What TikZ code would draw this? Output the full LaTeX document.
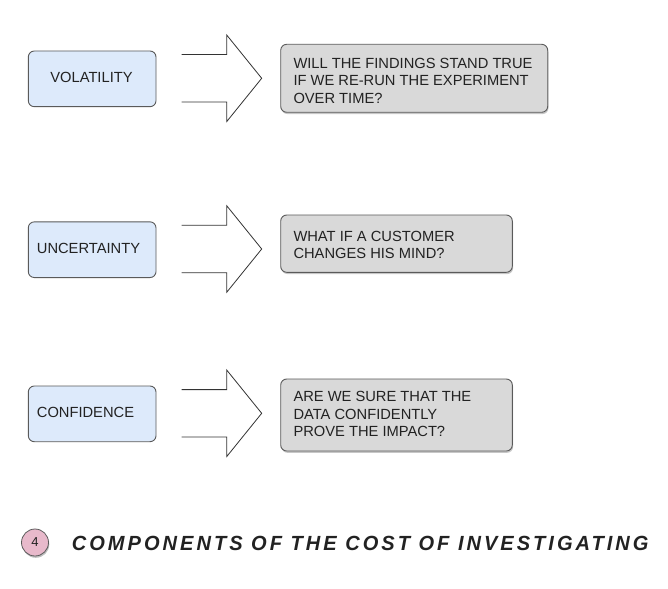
\documentclass[tikz,border=0pt]{standalone}
\usepackage{graphicx}
\usepackage{fontspec}
\setmainfont{Liberation Sans}
\newfontfamily\titlefont[LetterSpace=15]{Liberation Sans}
\usetikzlibrary{shadows}
\definecolor{bluefill}{HTML}{DDEAFB}
\definecolor{boxline}{HTML}{5A5A5A}
\definecolor{grayfill}{HTML}{D9D9D9}
\definecolor{pinkfill}{HTML}{E8B9CB}
\definecolor{inkc}{HTML}{222222}
\definecolor{arrowline}{HTML}{333333}
\begin{document}
\begin{tikzpicture}[x=1pt,y=-1pt,
  bluebox/.style={draw=boxline, line width=0.9pt, fill=bluefill, rounded corners=6pt,
    inner sep=0pt, minimum width=127.7pt, minimum height=55.7pt},
  graybox/.style={draw=boxline, line width=0.9pt, fill=grayfill, rounded corners=6pt,
    inner sep=0pt, drop shadow={shadow xshift=0.8pt, shadow yshift=-1.8pt, fill=black, opacity=0.22}},
  boxtext/.style={inner sep=0pt, text=inkc, font=\fontsize{14.7}{17.5}\selectfont},
  blockarrow/.style={draw=arrowline, line width=0.8pt, line join=miter},
  numcircle/.style={circle, draw=boxline, line width=0.8pt, fill=pinkfill, minimum size=27pt, inner sep=0pt,
    drop shadow={shadow xshift=0.8pt, shadow yshift=-1.8pt, fill=black, opacity=0.25}},
]
\useasboundingbox (0,0) rectangle (668,588);
\fill[white] (0,0) rectangle (668,588);

% left boxes
\node[bluebox] (vb) at (92.15,78.85) {};
\node[boxtext, anchor=base] (vt) at (91.5,82.3) {VOLATILITY};
\node[bluebox] (ub) at (92.15,249.7) {};
\node[boxtext, anchor=base west] (ut) at (36.7,253.3) {UNCERTAINTY};
\node[bluebox] (cb) at (92.15,413.85) {};
\node[boxtext, anchor=base west] (ct) at (36.7,417.3) {CONFIDENCE};

% block arrows
\foreach \c in {78.3,249,413.3} {
  \draw[blockarrow] (181.7,\c-23.7) -- (226.7,\c-23.7) -- (226.7,\c-43.3) -- (261.7,\c)
    -- (226.7,\c+43.3) -- (226.7,\c+23.7) -- (181.7,\c+23.7);
}

% right boxes (base anchor = baseline of the last line)
\node[graybox, minimum width=267pt, minimum height=68pt] (g1) at (414.2,78.3) {};
\node[boxtext, anchor=base west, align=left] (t1) at (293.3,103.3)
  {WILL THE FINDINGS STAND TRUE\\IF WE RE-RUN THE EXPERIMENT\\OVER TIME?};
\node[graybox, minimum width=231.6pt, minimum height=57.3pt] (g2) at (396.5,243.65) {};
\node[boxtext, anchor=base west, align=left] (t2) at (293.3,258.6)
  {WHAT IF A CUSTOMER\\CHANGES HIS MIND?};
\node[graybox, minimum width=231.6pt, minimum height=72pt] (g3) at (396.5,415) {};
\node[boxtext, anchor=base west, align=left] (t3) at (293.3,436.7)
  {ARE WE SURE THAT THE\\DATA CONFIDENTLY\\PROVE THE IMPACT?};

% footer
\node[numcircle] (num) at (35,542.5) {\fontsize{13}{13}\selectfont\color{inkc}4};
\node[anchor=base west, inner sep=0pt, text=inkc] (title) at (71.7,550)
  {\resizebox{576.6pt}{14.3pt}{\titlefont\bfseries\itshape COMPONENTS OF THE COST OF INVESTIGATING}};
\end{tikzpicture}
\end{document}
